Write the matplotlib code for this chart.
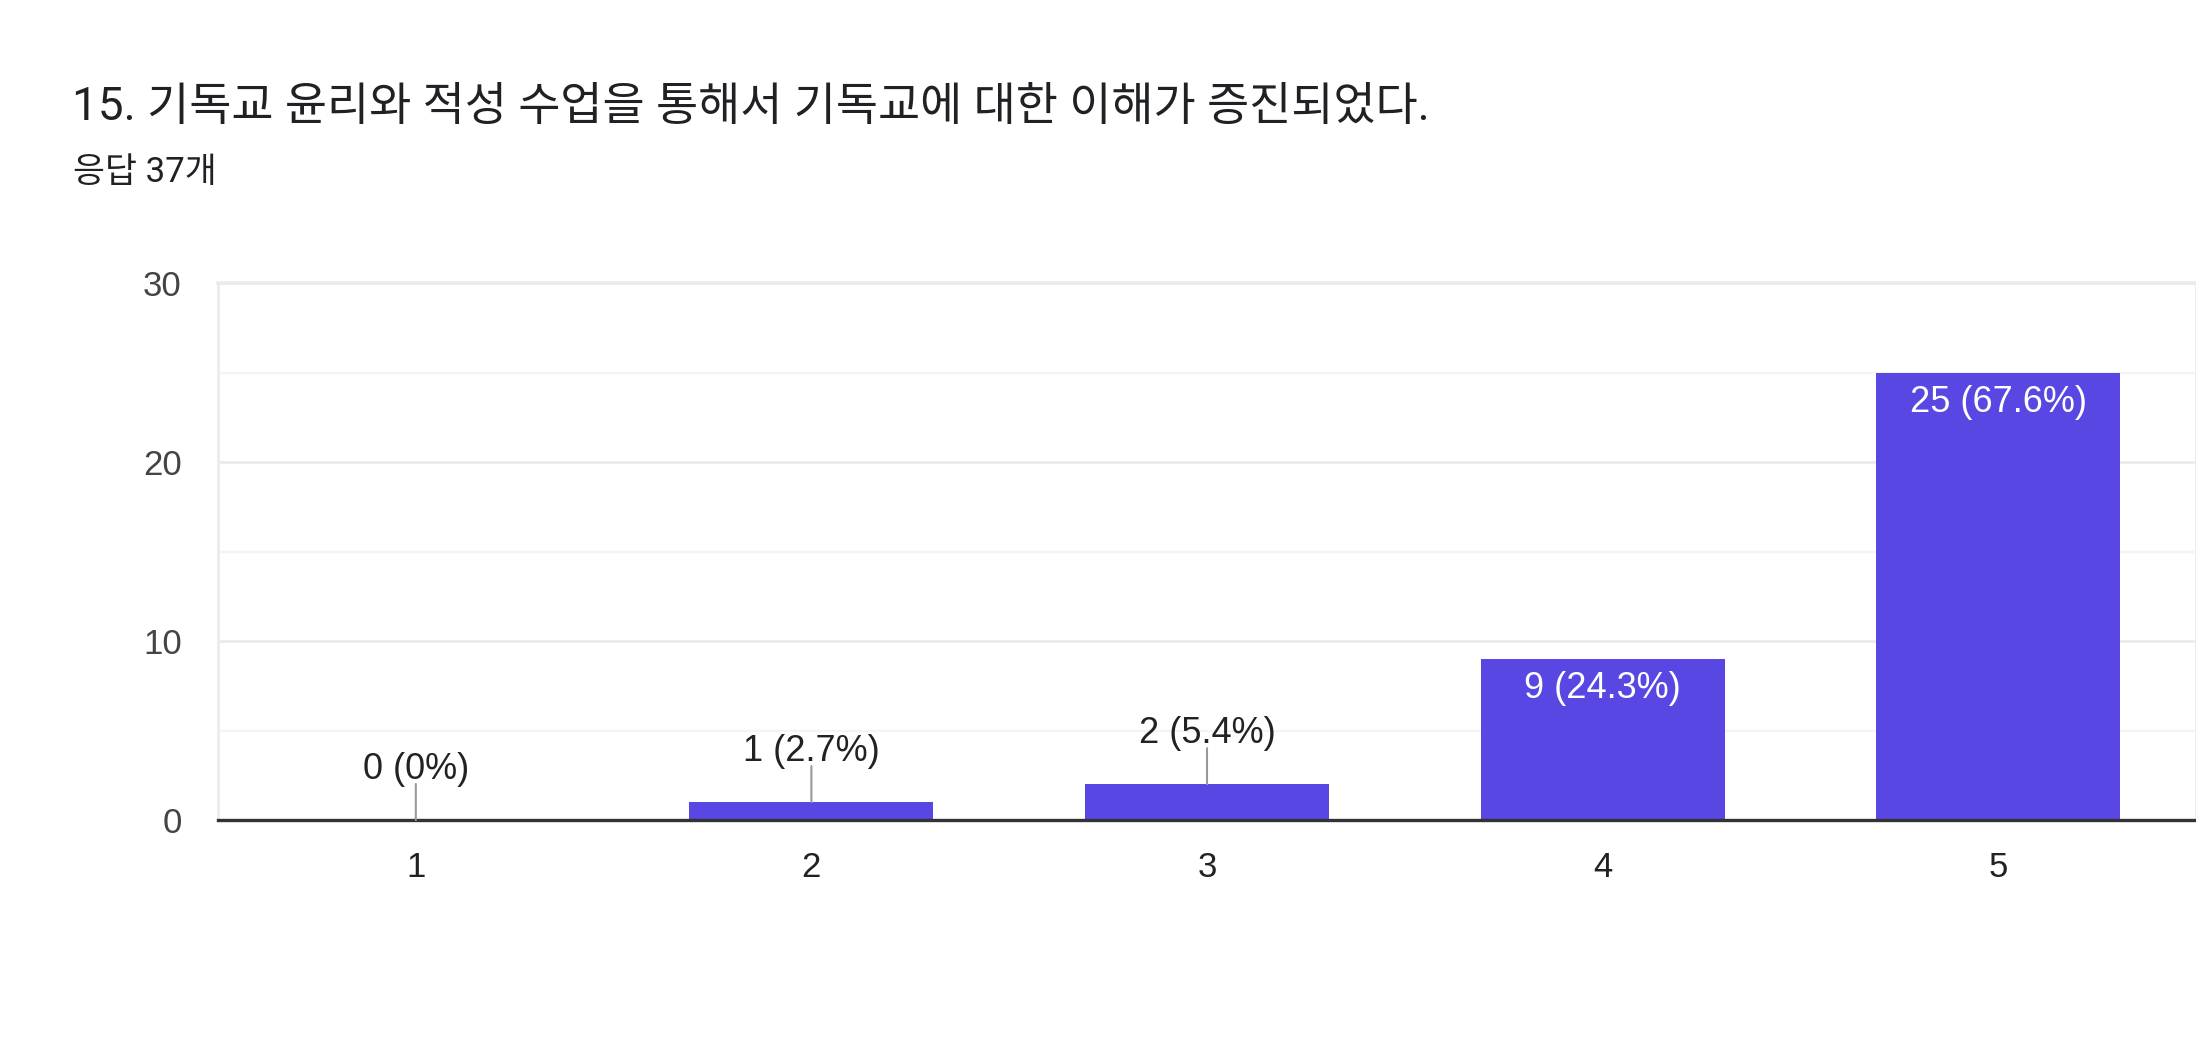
import matplotlib
matplotlib.use("Agg")
import matplotlib.pyplot as plt
from matplotlib.ticker import MultipleLocator

plt.rcParams['font.family'] = ['Liberation Sans', 'Noto Sans CJK KR', 'DejaVu Sans']

title = "15. 기독교 윤리와 적성 수업을 통해서 기독교에 대한 이해가 증진되었다."
subtitle = "응답 37개"
categories = ["1", "2", "3", "4", "5"]
counts = [0, 1, 2, 9, 25]
percents = ["0%", "2.7%", "5.4%", "24.3%", "67.6%"]
y_ticks = [0, 10, 20, 30]

BAR = "#5847E2"
W, H, DPI = 2196, 1044, 100
fig = plt.figure(figsize=(W / DPI, H / DPI), dpi=DPI)
ax = fig.add_axes([218 / W, 1 - 820 / H, (W - 218) / W, (820 - 283) / H])

x = list(range(1, len(categories) + 1))
ax.bar(x, counts, width=0.617, color=BAR, zorder=3)
ax.set_xlim(0.5, 5.5)
ax.set_ylim(0, 30)

# grid
ax.yaxis.set_major_locator(MultipleLocator(10))
ax.yaxis.set_minor_locator(MultipleLocator(5))
ax.grid(axis='y', which='major', color='#ebebeb', lw=2.0, zorder=0)
ax.grid(axis='y', which='minor', color='#f4f4f4', lw=1.6, zorder=0)
for s in ['top', 'right', 'bottom']:
    ax.spines[s].set_visible(False)
ax.spines['left'].set_color('#ebebeb')
ax.spines['left'].set_linewidth(2.0)
ax.axhline(30, color='#ebebeb', lw=2.6, zorder=1, clip_on=False)
ax.axvline(5.5, color='#ebebeb', lw=2.0, zorder=1, clip_on=False)
ax.axhline(0, color='#333333', lw=2.4, zorder=5, clip_on=False)

ax.set_yticks(y_ticks)
ax.set_yticklabels([str(t) for t in y_ticks])
ax.set_xticks(x)
ax.set_xticklabels(categories)
ax.tick_params(axis='y', which='both', length=0, pad=26, labelsize=25, labelcolor='#444444')
ax.tick_params(axis='x', which='both', length=0, pad=22, labelsize=25, labelcolor='#222222')

for xi, c, p in zip(x, counts, percents):
    label = f"{c} ({p})"
    if c >= 5:
        ax.annotate(label, xy=(xi, c), xytext=(0, -12), textcoords='offset pixels',
                    ha='center', va='top', color='white', fontsize=26, zorder=6)
    else:
        ax.annotate('', xy=(xi, c), xytext=(0, 36), textcoords='offset pixels',
                    arrowprops=dict(arrowstyle='-', color='#999999', lw=1.5,
                                    shrinkA=0, shrinkB=0), zorder=6)
        ax.annotate(label, xy=(xi, c), xytext=(0, 41), textcoords='offset pixels',
                    ha='center', va='baseline', color='#222222', fontsize=26, zorder=6)

fig.text(72 / W, 1 - 120 / H, title, fontsize=33,
         family=['Roboto', 'Noto Sans CJK KR'], color='#202124', va='baseline', ha='left')
fig.text(73 / W, 1 - 182 / H, subtitle, fontsize=25,
         family=['Roboto', 'Noto Sans CJK KR'], color='#202124', va='baseline', ha='left')

fig.savefig("out.png", dpi=DPI, facecolor='white')
